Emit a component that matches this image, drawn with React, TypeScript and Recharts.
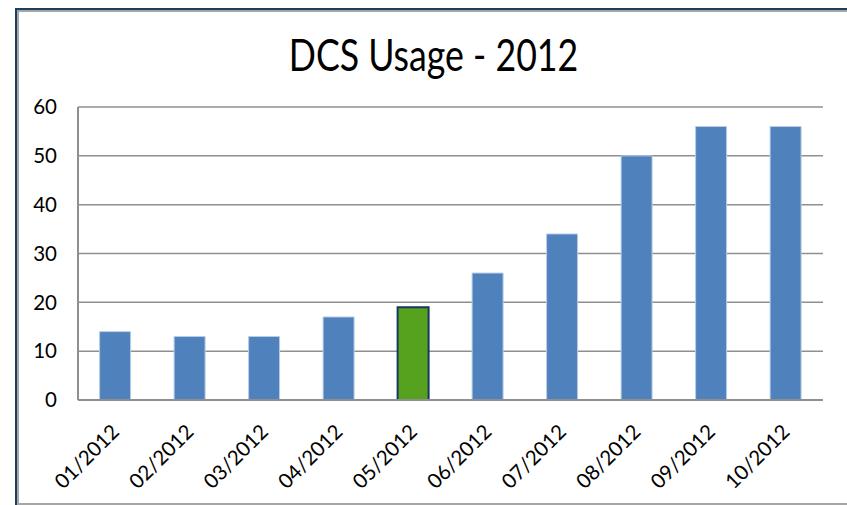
import React from "react";
import { Bar, BarChart, CartesianGrid, Cell, XAxis, YAxis } from "recharts";

const months = [
  "01/2012",
  "02/2012",
  "03/2012",
  "04/2012",
  "05/2012",
  "06/2012",
  "07/2012",
  "08/2012",
  "09/2012",
  "10/2012",
];
const usage = [14, 13, 13, 17, 19, 26, 34, 50, 56, 56];
const highlightMonth = "05/2012";
const yTicks = [0, 10, 20, 30, 40, 50, 60];

const rows = months.map((m, i) => ({ month: m, usage: usage[i] }));

const FONT = "Lato, 'Open Sans', sans-serif";

function MonthTick({ x, y, payload }: { x?: number; y?: number; payload?: { value: string } }) {
  return (
    <g transform={`translate(${x},${(y ?? 0) + 28}) rotate(-45)`}>
      <text textAnchor="end" dy="0.35em" fill="#000" fontSize={20.5} fontFamily={FONT}>
        {payload?.value}
      </text>
    </g>
  );
}

export default function App() {
  return (
    <div
      style={{
        position: "absolute",
        left: 0,
        top: 0,
        width: 847,
        height: 505,
        background: "#fff",
        overflow: "hidden",
      }}
    >
      <div
        style={{
          position: "absolute",
          left: 15,
          top: 8,
          width: 900,
          height: 495,
          border: "2px solid #1c3f5e",
          boxSizing: "content-box",
        }}
      >
        <div style={{ position: "absolute", inset: 0, border: "2px solid #a6a6a6" }} />
      </div>
      <div
        style={{
          position: "absolute",
          left: 433.5,
          top: 37,
          fontFamily: FONT,
          fontSize: 35.7,
          lineHeight: "36px",
          whiteSpace: "nowrap",
          color: "#000",
          transform: "translateX(-50%) scaleY(1.23)",
        }}
      >
        DCS Usage - 2012
      </div>
      <div style={{ position: "absolute", left: 0, top: 0 }}>
        <BarChart
          width={847}
          height={505}
          data={rows}
          margin={{ top: 107, right: 24, bottom: 0, left: 0 }}
          barCategoryGap="29%"
        >
          <CartesianGrid vertical={false} stroke="#8f8f8f" strokeWidth={1.5} />
          <XAxis
            dataKey="month"
            height={105}
            interval={0}
            tickSize={0}
            tickMargin={0}
            tickLine={false}
            axisLine={{ stroke: "#8f8f8f", strokeWidth: 2 }}
            tick={<MonthTick />}
          />
          <YAxis
            width={78}
            domain={[0, 60]}
            ticks={yTicks}
            interval={0}
            tickSize={0}
            tickMargin={21}
            tickLine={false}
            axisLine={{ stroke: "#8f8f8f", strokeWidth: 2 }}
            tick={{ fill: "#000", fontSize: 20.5, fontFamily: FONT }}
          />
          <Bar dataKey="usage" isAnimationActive={false}>
            {rows.map((r) =>
              r.month === highlightMonth ? (
                <Cell key={r.month} fill="#56a11e" stroke="#17375e" strokeWidth={2} />
              ) : (
                <Cell key={r.month} fill="#4f81bd" stroke="#b9cde5" strokeWidth={1} />
              ),
            )}
          </Bar>
        </BarChart>
      </div>
    </div>
  );
}
